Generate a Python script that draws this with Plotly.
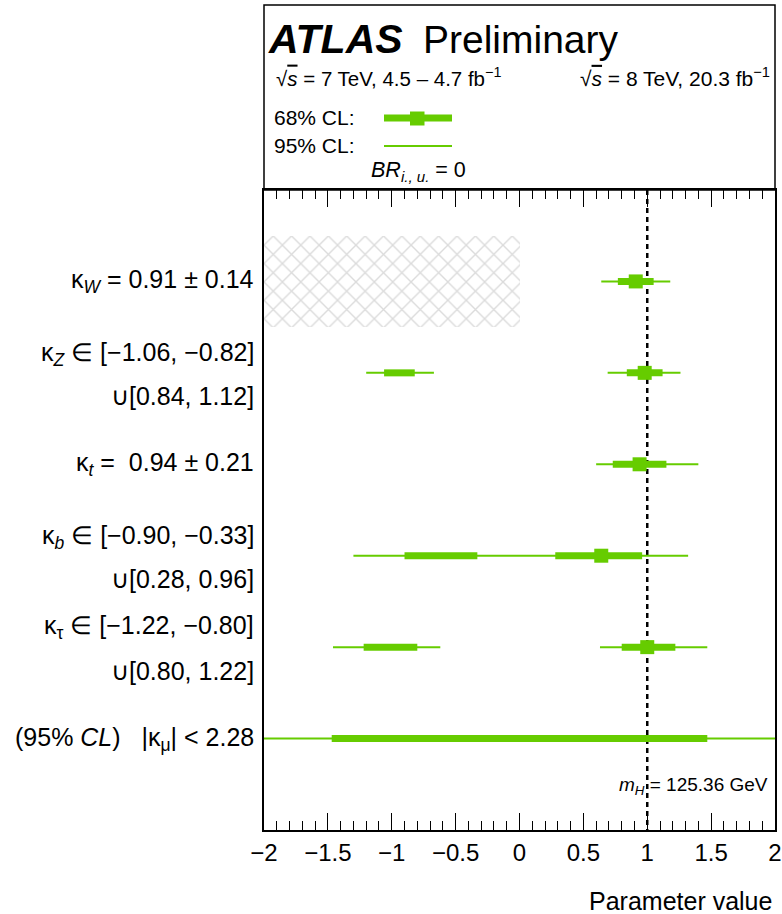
import plotly.graph_objects as go

# ---- data -----------------------------------------------------------------
params = ["W", "Z", "t", "b", "tau", "mu"]
row_index = [0, 1, 2, 3, 4, 5]

# 95% CL intervals (possibly several disjoint pieces per parameter)
ci95 = {
    "W": [(0.64, 1.18)],
    "Z": [(-1.20, -0.67), (0.69, 1.26)],
    "t": [(0.60, 1.40)],
    "b": [(-1.30, 1.32)],
    "tau": [(-1.46, -0.62), (0.63, 1.47)],
    "mu": [(-2.28, 2.28)],
}
# 68% CL intervals
ci68 = {
    "W": [(0.77, 1.05)],
    "Z": [(-1.06, -0.82), (0.84, 1.12)],
    "t": [(0.73, 1.15)],
    "b": [(-0.90, -0.33), (0.28, 0.96)],
    "tau": [(-1.22, -0.80), (0.80, 1.22)],
    "mu": [(-1.47, 1.47)],
}
# best-fit values (none shown for kappa_mu)
best_fit = {"W": 0.91, "Z": 0.98, "t": 0.94, "b": 0.64, "tau": 1.00, "mu": None}

# region excluded by construction for kappa_W
excluded_W = (-2.0, 0.0)

sm_value = 1.0

# text labels on the left, with their row positions
label_texts = [
    "κ<sub><i>W</i></sub> = 0.91 ± 0.14",
    "κ<sub><i>Z</i></sub> ∈ [−1.06, −0.82]",
    "∪[0.84, 1.12]",
    "κ<sub><i>t</i></sub> =  0.94 ± 0.21",
    "κ<sub><i>b</i></sub> ∈ [−0.90, −0.33]",
    "∪[0.28, 0.96]",
    "κ<sub>τ</sub> ∈ [−1.22, −0.80]",
    "∪[0.80, 1.22]",
    "(95% <i>CL</i>)   |κ<sub>μ</sub>| &lt; 2.28",
]
label_rows = [0, 0.79, 1.25, 2, 2.79, 3.26, 3.78, 4.26, 5]

tick_vals = [-2, -1.5, -1, -0.5, 0, 0.5, 1, 1.5, 2]
tick_text = ["−2", "−1.5", "−1", "−0.5", "0", "0.5", "1", "1.5", "2"]

# ---- styling --------------------------------------------------------------
W, H = 782, 914
GREEN = "rgb(102,204,0)"
FONT = "Liberation Sans, Arial, Helvetica, sans-serif"


def px_x(p):
    return p / W


def px_y(p):
    return 1 - p / H


def segments(intervals_by_param):
    xs, ys = [], []
    for name, row in zip(params, row_index):
        for lo, hi in intervals_by_param[name]:
            xs += [lo, hi, None]
            ys += [row, row, None]
    return xs, ys


fig = go.Figure()

# hatched exclusion region for kappa_W < 0
fig.add_trace(go.Bar(
    x=[excluded_W[1] - excluded_W[0]], base=[excluded_W[0]], y=[row_index[0]],
    orientation="h", width=1.0,
    marker=dict(color="white", line=dict(width=0),
                pattern=dict(shape="x", fgcolor="#b8b8b8", bgcolor="white",
                             size=13, solidity=0.2)),
    hoverinfo="skip", showlegend=False,
))

# SM reference line
fig.add_trace(go.Scatter(
    x=[sm_value, sm_value], y=[-1, 6], mode="lines",
    line=dict(color="black", width=2.5, dash="5px,4px"),
    hoverinfo="skip", showlegend=False,
))

x95, y95 = segments(ci95)
fig.add_trace(go.Scatter(x=x95, y=y95, mode="lines",
                         line=dict(color=GREEN, width=2),
                         hoverinfo="skip", showlegend=False))
x68, y68 = segments(ci68)
fig.add_trace(go.Scatter(x=x68, y=y68, mode="lines",
                         line=dict(color=GREEN, width=7),
                         hoverinfo="skip", showlegend=False))

bx = [best_fit[p] for p in params if best_fit[p] is not None]
by = [r for p, r in zip(params, row_index) if best_fit[p] is not None]
fig.add_trace(go.Scatter(x=bx, y=by, mode="markers",
                         marker=dict(symbol="square", size=14, color=GREEN,
                                     line=dict(width=0)),
                         hoverinfo="skip", showlegend=False))

x0, x1 = 264, 775
ytop, ybot = 190, 830

fig.update_layout(
    width=W, height=H,
    margin=dict(l=0, r=0, t=0, b=0, autoexpand=False),
    paper_bgcolor="white", plot_bgcolor="white",
    font=dict(family=FONT, color="black"),
    showlegend=False,
    bargap=0,
    xaxis=dict(
        domain=[px_x(x0), px_x(x1)], range=[-2, 2], automargin=False,
        showgrid=False, zeroline=False,
        showline=True, linecolor="black", linewidth=1.5, mirror="ticks",
        ticks="inside", ticklen=17, tickwidth=1.3, tickcolor="black",
        tickvals=tick_vals, ticktext=tick_text,
        tickfont=dict(size=24, family=FONT),
        minor=dict(dtick=0.1, ticks="inside", ticklen=9, tickwidth=1.2,
                   tickcolor="black", showgrid=False),
    ),
    yaxis=dict(
        domain=[px_y(ybot), px_y(ytop)], range=[6, -1], automargin=False,
        showgrid=False, zeroline=False, showticklabels=False, ticks="",
        showline=True, linecolor="black", linewidth=1.5, mirror=True,
    ),
)

shapes = [
    # header box
    dict(type="rect", xref="paper", yref="paper",
         x0=px_x(x0), x1=px_x(x1), y0=px_y(ytop), y1=px_y(5),
         line=dict(color="black", width=1.5), fillcolor="rgba(0,0,0,0)"),
    # legend: 68% CL symbol
    dict(type="line", xref="paper", yref="paper",
         x0=px_x(384), x1=px_x(452), y0=px_y(118), y1=px_y(118),
         line=dict(color=GREEN, width=7)),
    dict(type="rect", xref="paper", yref="paper",
         x0=px_x(410), x1=px_x(424.5), y0=px_y(125.5), y1=px_y(111.5),
         line=dict(width=0), fillcolor=GREEN),
    # legend: 95% CL symbol
    dict(type="line", xref="paper", yref="paper",
         x0=px_x(384), x1=px_x(452), y0=px_y(146), y1=px_y(146),
         line=dict(color=GREEN, width=2)),
]
fig.update_layout(shapes=shapes)

ann = []


def text(x, y, s, size, xanchor="left", yanchor="middle", **kw):
    ann.append(dict(xref="paper", yref="paper", x=px_x(x), y=px_y(y),
                    text=s, showarrow=False, xanchor=xanchor, yanchor=yanchor,
                    font=dict(size=size, family=FONT, color="black"), **kw))


SQRT_S = "√<span style='text-decoration:overline'><i>s</i></span>"

text(266, 39, "<b><i>ATLAS</i></b>", 41)
text(421, 39, "Preliminary", 39)
text(274, 77, SQRT_S + " = 7 TeV, 4.5 – 4.7 fb<sup>−1</sup>", 20.5)
text(772, 77, SQRT_S + " = 8 TeV, 20.3 fb<sup>−1</sup>", 21, xanchor="right")
text(272, 117, "68% CL:", 21)
text(272, 145, "95% CL:", 21)
text(369, 171, "<i>BR</i><sub><i>i., u.</i></sub> = 0", 21.5)
text(770, 786, "<i>m</i><sub><i>H</i></sub> = 125.36 GeV", 19, xanchor="right")
text(774, 901, "Parameter value", 25, xanchor="right")

# left-hand labels placed at row positions via the y axis
for r, s in zip(label_rows, label_texts):
    ann.append(dict(xref="paper", yref="y", x=px_x(256), y=r, text=s,
                    showarrow=False, xanchor="right", yanchor="middle",
                    font=dict(size=25, family=FONT, color="black")))

fig.update_layout(annotations=ann)

fig.write_html("out.html")
